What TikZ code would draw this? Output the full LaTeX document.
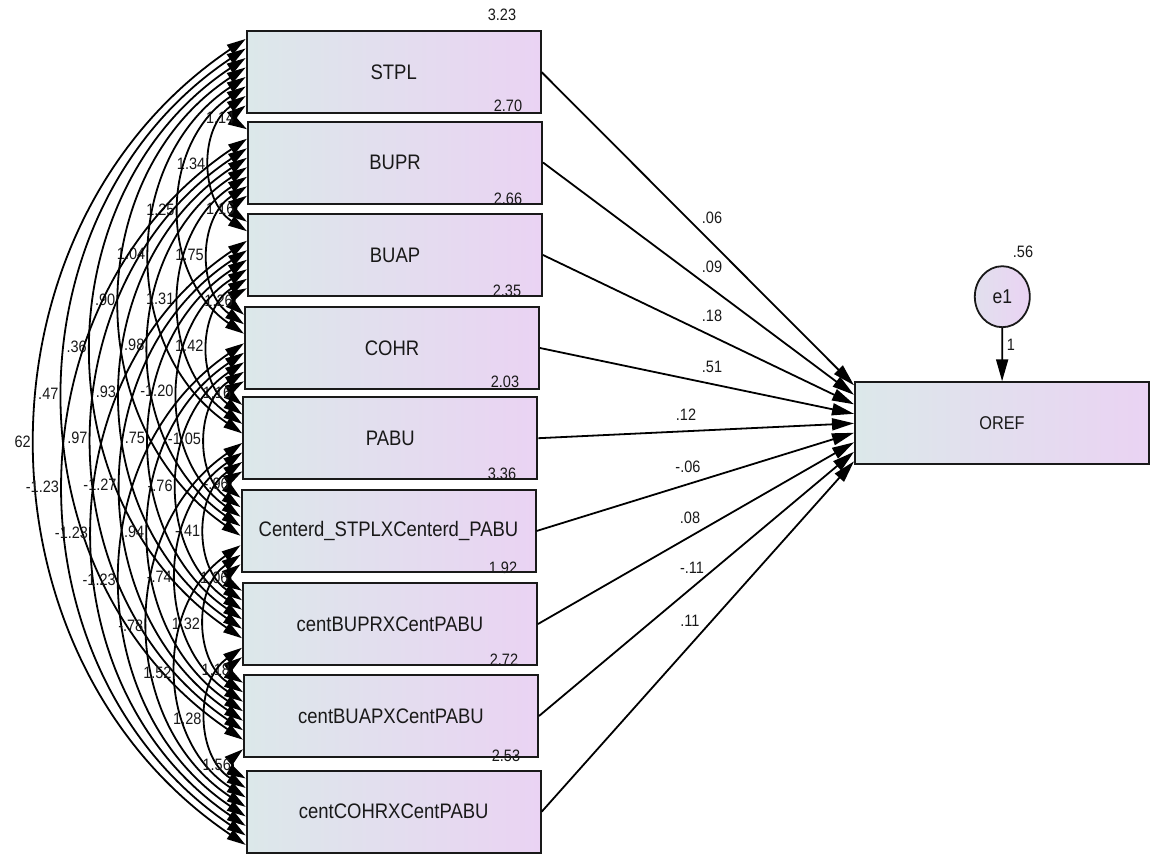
\documentclass[tikz,border=0pt]{standalone}
\usepackage{fontspec}
\setmainfont[FakeStretch=0.88]{Liberation Sans}
\usetikzlibrary{arrows.meta,calc,shapes.geometric}
\definecolor{boxL}{RGB}{220,232,234}
\definecolor{boxR}{RGB}{234,211,243}
\definecolor{ink}{RGB}{25,25,25}
\begin{document}
\begin{tikzpicture}[x=1pt,y=-1pt,
  var/.style={draw=ink, line width=2pt, left color=boxL, right color=boxR,
    minimum width=294pt, minimum height=82pt, inner sep=0pt,
    font=\fontsize{21}{23}\selectfont, text=ink},
  errvar/.style={draw=ink, line width=1.8pt, ellipse, left color=boxL!60!boxR, right color=boxR,
    minimum width=55pt, minimum height=61pt, inner sep=0pt,
    font=\fontsize{20}{22}\selectfont, text=ink},
  cov/.style={line width=1.8pt, draw=black,
    {Triangle[length=19pt,width=11pt]}-{Triangle[length=19pt,width=11pt]}},
  reg/.style={line width=1.8pt, draw=black, -{Triangle[length=22pt,width=12pt]}},
  num/.style={font=\fontsize{16.5}{17}\selectfont, inner sep=0pt, text=ink},
  covlab/.style={num, midway, anchor=east, xshift=-5pt}]
\useasboundingbox (0,0) rectangle (1157,854);

% observed variables
\node[var] (b1) at (393.7,72.2) {STPL};
\node[var] (b2) at (395.0,162.5) {BUPR};
\node[var] (b3) at (395.0,255.0) {BUAP};
\node[var] (b4) at (392.0,348.0) {COHR};
\node[var] (b5) at (390.3,438.2) {PABU};
\node[var] (b6) at (388.5,531.0) {Centerd\_STPLXCenterd\_PABU};
\node[var] (b7) at (390.0,624.0) {centBUPRXCentPABU};
\node[var] (b8) at (391.0,716.0) {centBUAPXCentPABU};
\node[var] (b9) at (393.7,811.7) {centCOHRXCentPABU};
\node[var, font=\fontsize{18.5}{20}\selectfont] (oref) at (1002.0,423.3) {OREF};
\node[errvar] (e1) at (1002.3,296.7) {e1};

% variances
\node[num] (v1) at (502,15) {3.23};
\node[num] (v2) at (508,106) {2.70};
\node[num] (v3) at (508,199) {2.66};
\node[num] (v4) at (507,291) {2.35};
\node[num] (v5) at (505,382) {2.03};
\node[num] (v6) at (502,474) {3.36};
\node[num] (v7) at (503,568) {1.92};
\node[num] (v8) at (504,660) {2.72};
\node[num] (v9) at (506,756) {2.53};
\node[num] (ve) at (1023,252) {.56};

% covariances
\foreach \i/\j/\t in {1/2/1.14,1/3/1.34,1/4/1.25,1/5/1.04,1/6/.90,1/7/.36,1/8/.47,1/9/62,
  2/3/1.16,2/4/1.75,2/5/1.31,2/6/.98,2/7/.93,2/8/.97,2/9/-1.23,
  3/4/1.26,3/5/1.42,3/6/-1.20,3/7/.75,3/8/-1.27,3/9/-1.23,
  4/5/1.16,4/6/-1.05,4/7/-.76,4/8/.94,4/9/-1.23,
  5/6/-.96,5/7/-.41,5/8/-.74,5/9/-.78,
  6/7/1.06,6/8/1.32,6/9/1.52,
  7/8/1.18,7/9/1.28,
  8/9/1.56}{
  \pgfmathsetmacro\off{(4.5-(\j-\i))*9.5}
  \draw[cov] ($(b\i.west)+(0,\off)$) to[bend right=56, looseness=1.07]
     node[covlab] {\t} ($(b\j.west)+(0,-\off)$);
}

% regressions
\foreach \k in {1,...,9}{
  \pgfmathsetmacro\yo{(\k-5)*9.5}
  \draw[reg] (b\k.east) -- ($(oref.west)+(0,\yo)$);
}
\node[num] (p1) at (712,218) {.06};
\node[num] (p2) at (712,267) {.09};
\node[num] (p3) at (712,316) {.18};
\node[num] (p4) at (712,367) {.51};
\node[num] (p5) at (686,415) {.12};
\node[num] (p6) at (688,467) {-.06};
\node[num] (p7) at (690,518) {.08};
\node[num] (p8) at (692,568) {-.11};
\node[num] (p9) at (690,621) {.11};

\draw[reg] (e1) -- (oref);
\node[num] (w1) at (1011,345) {1};
\end{tikzpicture}
\end{document}
